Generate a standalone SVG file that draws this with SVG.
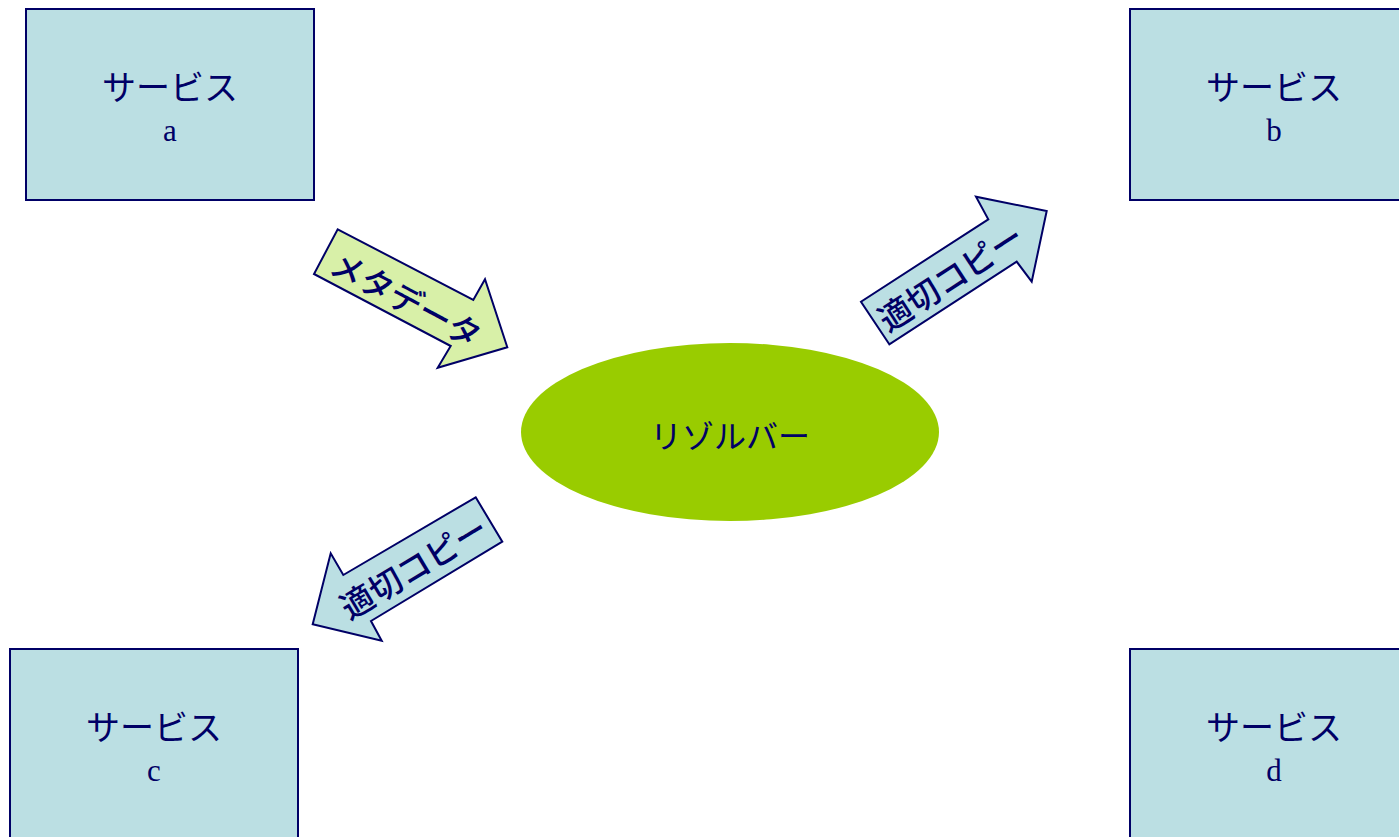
<svg xmlns="http://www.w3.org/2000/svg" width="1399" height="837" viewBox="0 0 1399 837">
<style>
.box{fill:#bbdfe3;stroke:#000066;stroke-width:2}
.arr{stroke:#000066;stroke-width:2;stroke-linejoin:miter}
.jp{font-family:"Noto Sans CJK JP","Noto Sans",sans-serif;fill:#000066;text-anchor:middle}
.al{font-weight:500}
.lt{font-family:"Liberation Serif",serif;fill:#000066;text-anchor:middle;font-size:31px}
</style>
<rect width="1399" height="837" fill="#ffffff"/>
<g id="connectors">
<g id="arrow-metadata">
<polygon class="arr" fill="#d8f0a8" points="337.7,229.3 473.3,300 485,279.3 507.3,347.3 437.7,367.7 450.7,346 314,274"/>
<text class="jp al" font-size="33" transform="translate(406,300) rotate(28)" dy="12">メタデータ</text>
</g>
<g id="arrow-copy-b">
<polygon class="arr" fill="#bbdfe3" points="889.3,344.3 861,301.7 988.3,219.3 976,196.7 1046.7,211 1031.7,281.7 1016.7,261.7"/>
<text class="jp al" font-size="33" transform="translate(951,278) rotate(-33)" dy="12">適切コピー</text>
</g>
<g id="arrow-copy-c">
<polygon class="arr" fill="#bbdfe3" points="475.7,497.3 502.3,541.7 371,621 381.7,640.7 312.7,624.3 330.7,553.3 343.3,575"/>
<text class="jp al" font-size="33" transform="translate(414,568) rotate(-31)" dy="12">適切コピー</text>
</g>
</g>
<g id="service-a">
<rect class="box" x="26" y="9" width="288" height="191"/>
<text class="jp" x="170" y="100" font-size="34">サービス</text>
<text class="lt" x="170" y="141">a</text>
</g>
<g id="service-b">
<rect class="box" x="1130" y="9" width="288" height="191"/>
<text class="jp" x="1274" y="100" font-size="34">サービス</text>
<text class="lt" x="1274" y="141">b</text>
</g>
<g id="service-c">
<rect class="box" x="10" y="649" width="288" height="200"/>
<text class="jp" x="154" y="740" font-size="34">サービス</text>
<text class="lt" x="154" y="781">c</text>
</g>
<g id="service-d">
<rect class="box" x="1130" y="649" width="288" height="200"/>
<text class="jp" x="1274" y="740" font-size="34">サービス</text>
<text class="lt" x="1274" y="781">d</text>
</g>
<g id="resolver">
<ellipse cx="730" cy="432" rx="209" ry="89" fill="#99cc00"/>
<text class="jp" x="730" y="448" font-size="32">リゾルバー</text>
</g>
</svg>
